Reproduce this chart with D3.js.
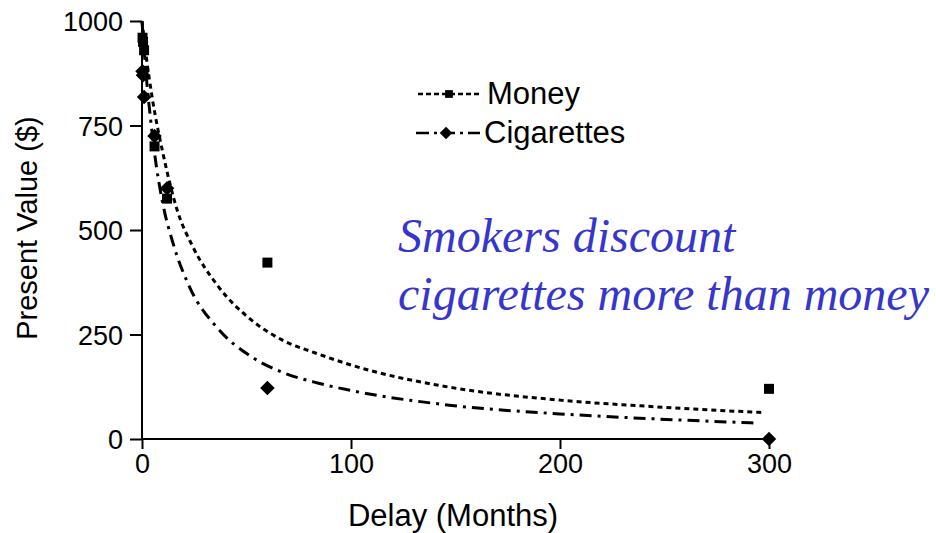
<!DOCTYPE html>
<html><head><meta charset="utf-8">
<script src="https://cdn.jsdelivr.net/npm/d3@7"></script>
<style>body{margin:0;background:#fff}svg{display:block}</style>
</head><body><div id="chart"></div>
<script>
// Observed data points (delay in months, present value $)
const moneyDelays = [0.25, 0.5, 1, 6, 12, 60, 300];
const moneyValues = [960, 950, 930, 700, 575, 422, 120];
const cigDelays = [0.25, 0.5, 1, 6, 12, 60, 300];
const cigValues = [880, 870, 818, 725, 600, 122, 0];
// Fitted curves
const moneyCurveDelays = [0, 2, 5, 10, 17, 24, 36, 52, 67, 84, 100, 147, 200, 246, 298];
const moneyCurveValues = [1000, 916, 813, 684, 545, 463, 368, 286, 237, 204, 177, 124, 93, 77, 63];
const cigCurveDelays = [0, 2, 4, 6, 10, 15, 23, 36, 52, 67, 84, 100, 147, 200, 246, 295];
const cigCurveValues = [1000, 870, 770, 684, 562, 466, 361, 266, 198, 160, 134, 116, 81, 60, 48, 38];
const xTicks = [0, 100, 200, 300];
const yTicks = [0, 250, 500, 750, 1000];
const seriesNames = ["Money", "Cigarettes"];
const noteLines = ["Smokers discount", "cigarettes more than money"];

const W = 936, H = 533;
const svg = d3.select("#chart").append("svg").attr("width", W).attr("height", H);
const x = d3.scaleLinear().domain([0, 300]).range([142, 769]);
const y = d3.scaleLinear().domain([0, 1000]).range([439, 21]);
const font = "'Liberation Sans', Arial, Helvetica, sans-serif";

// axes
const xAxis = svg.append("g").attr("transform", "translate(0,439)")
  .call(d3.axisBottom(x).tickValues(xTicks).tickFormat(d3.format("d")).tickSize(10).tickPadding(5));
const yAxis = svg.append("g").attr("transform", "translate(142,0)")
  .call(d3.axisLeft(y).tickValues(yTicks).tickFormat(d3.format("d")).tickSize(12).tickPadding(7));
[xAxis, yAxis].forEach(g => {
  g.select(".domain").attr("stroke", "#000").attr("stroke-width", 2);
  g.selectAll(".tick line").attr("stroke", "#000").attr("stroke-width", 2);
  g.selectAll(".tick text").attr("fill", "#000").style("font-family", font).style("font-size", "27px");
});
xAxis.select(".domain").attr("d", `M${x(0)},0H${x(300)}`);
yAxis.select(".domain").attr("d", `M0,${y(0)}V${y(1000)}`);
xAxis.selectAll(".tick text").attr("dy", "0.72em");
yAxis.selectAll(".tick text").attr("dy", "0.36em");

svg.append("text").attr("x", 453).attr("y", 526).attr("text-anchor", "middle")
  .style("font-family", font).style("font-size", "31px").text("Delay (Months)");
svg.append("text").attr("transform", "translate(37,228) rotate(-90)").attr("text-anchor", "middle")
  .style("font-family", font).style("font-size", "29px").text("Present Value ($)");

// curves
const line = d3.line().x(d => x(d[0])).y(d => y(d[1])).curve(d3.curveMonotoneX);
svg.append("path").datum(d3.zip(moneyCurveDelays, moneyCurveValues))
  .attr("d", line).attr("fill", "none").attr("stroke", "#000").attr("stroke-width", 3)
  .attr("stroke-dasharray", "5,4");
svg.append("path").datum(d3.zip(cigCurveDelays, cigCurveValues))
  .attr("d", line).attr("fill", "none").attr("stroke", "#000").attr("stroke-width", 3)
  .attr("stroke-dasharray", "12,6,3,6");

// markers
const sq = d3.symbol().type(d3.symbolSquare).size(100);
const dia = d3.symbol().type(d3.symbolDiamond2 || d3.symbolDiamond).size(135);
svg.append("g").selectAll("path").data(d3.zip(moneyDelays, moneyValues)).join("path")
  .attr("d", sq).attr("transform", d => `translate(${x(d[0])},${y(d[1])})`).attr("fill", "#000");
svg.append("g").selectAll("path").data(d3.zip(cigDelays, cigValues)).join("path")
  .attr("d", dia).attr("transform", d => `translate(${x(d[0])},${y(d[1])})`).attr("fill", "#000");

// legend
const lg = svg.append("g");
lg.append("line").attr("x1", 418).attr("x2", 482).attr("y1", 94).attr("y2", 94)
  .attr("stroke", "#000").attr("stroke-width", 2.5).attr("stroke-dasharray", "5,3");
lg.append("path").attr("d", d3.symbol().type(d3.symbolSquare).size(60)).attr("transform", "translate(449,94)");
lg.append("line").attr("x1", 416).attr("x2", 480).attr("y1", 133).attr("y2", 133)
  .attr("stroke", "#000").attr("stroke-width", 2.5).attr("stroke-dasharray", "13,5,3,5");
lg.append("path").attr("d", d3.symbol().type(d3.symbolDiamond2 || d3.symbolDiamond).size(100)).attr("transform", "translate(446,133)");
lg.selectAll("text").data(seriesNames).join("text")
  .attr("x", (d, i) => i === 0 ? 487 : 484).attr("y", (d, i) => i === 0 ? 104 : 143)
  .style("font-family", font).style("font-size", "31px").text(d => d);

// annotation
svg.append("g").selectAll("text").data(noteLines).join("text")
  .attr("x", 398).attr("y", (d, i) => 252 + i * 58)
  .attr("fill", "#3636cc").style("font-family", "'Liberation Serif', 'Times New Roman', serif")
  .style("font-style", "italic").style("font-size", "48px").text(d => d);
</script></body></html>
